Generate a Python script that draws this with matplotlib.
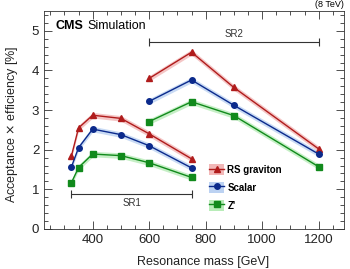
import numpy as np
import matplotlib
matplotlib.use('Agg')
import matplotlib.pyplot as plt
from matplotlib.patches import Patch
from matplotlib.lines import Line2D
from matplotlib.ticker import MultipleLocator

# Signal region 1 and 2 mass points [GeV]
mass_sr1 = [325, 350, 400, 500, 600, 750]
mass_sr2 = [600, 750, 900, 1200]

# Acceptance x efficiency [%]
rsg_sr1 = [1.85, 2.55, 2.87, 2.79, 2.40, 1.77]
rsg_sr2 = [3.80, 4.46, 3.57, 2.02]
scalar_sr1 = [1.57, 2.05, 2.52, 2.38, 2.10, 1.54]
scalar_sr2 = [3.22, 3.76, 3.12, 1.89]
zp_sr1 = [1.17, 1.55, 1.89, 1.85, 1.67, 1.30]
zp_sr2 = [2.71, 3.21, 2.86, 1.57]

# band half-width
band = 0.07

series = [
    ('RS graviton', rsg_sr1, rsg_sr2, '#b01c1c', '#f2b8b8', '^'),
    ('Scalar', scalar_sr1, scalar_sr2, '#0b2a8c', '#bcd2f2', 'o'),
    ("Z'", zp_sr1, zp_sr2, '#118a1c', '#b8ecb8', 's'),
]

plt.rcParams['font.family'] = ['Liberation Sans', 'DejaVu Sans']

fig = plt.figure(figsize=(3.5, 2.69), dpi=100)
ax = fig.add_axes([0.126, 0.149, 0.857, 0.810])

handles = []
for name, y1, y2, col, bcol, mk in series:
    for xs, ys in [(mass_sr1, y1), (mass_sr2, y2)]:
        ys = np.array(ys)
        ax.fill_between(xs, ys - band, ys + band, color=bcol, lw=0, alpha=0.8)
        ax.plot(xs, ys, color=col, lw=1.0, marker=mk, ms=4)
    handles.append((Patch(facecolor=bcol, edgecolor='none'),
                    Line2D([], [], color=col, lw=1.0, marker=mk, ms=4)))

# signal region bars
ax.errorbar([537.5], [0.89], xerr=[212.5], color='#333333', lw=0.8, capsize=3, capthick=0.8)
ax.text(537.5, 0.66, 'SR1', ha='center', va='center', fontsize=7, color='#333333')
ax.errorbar([900], [4.71], xerr=[300], color='#333333', lw=0.8, capsize=3, capthick=0.8)
ax.text(900, 4.93, 'SR2', ha='center', va='center', fontsize=7, color='#333333')

ax.set_xlim(228, 1290)
ax.set_ylim(0, 5.5)
ax.xaxis.set_major_locator(MultipleLocator(200))
ax.xaxis.set_minor_locator(MultipleLocator(50))
ax.yaxis.set_major_locator(MultipleLocator(1))
ax.yaxis.set_minor_locator(MultipleLocator(0.2))
ax.tick_params(which='both', direction='in', top=True, right=True, labelsize=9.5,
               colors='#333333', labelcolor='#222222')
ax.tick_params(which='major', length=6, width=0.6)
ax.tick_params(which='minor', length=3, width=0.6)
for s in ax.spines.values():
    s.set_linewidth(0.6)
    s.set_color('#333333')

ax.set_xlabel('Resonance mass [GeV]', fontsize=9, color='#222222')
ax.xaxis.set_label_coords(0.53, -0.125)
ax.set_ylabel(r'Acceptance $\times$ efficiency [%]', fontsize=9, color='#222222')
ax.yaxis.set_label_coords(-0.08, 0.48)

ax.text(0.037, 0.933, 'CMS', transform=ax.transAxes, fontsize=9, fontweight='bold', va='center')
ax.text(0.145, 0.933, 'Simulation', transform=ax.transAxes, fontsize=9, va='center')
ax.text(1.0, 1.01, '(8 TeV)', transform=ax.transAxes, fontsize=6.5, ha='right', va='bottom')

leg = ax.legend(handles, [h for h, *_ in series], loc='center left',
                bbox_to_anchor=(0.52, 0.19), frameon=False,
                handlelength=1.6, handleheight=1.3, labelspacing=0.75,
                handletextpad=0.3, prop={'weight': 'bold', 'size': 7})

fig.savefig('out.png', dpi=100)
